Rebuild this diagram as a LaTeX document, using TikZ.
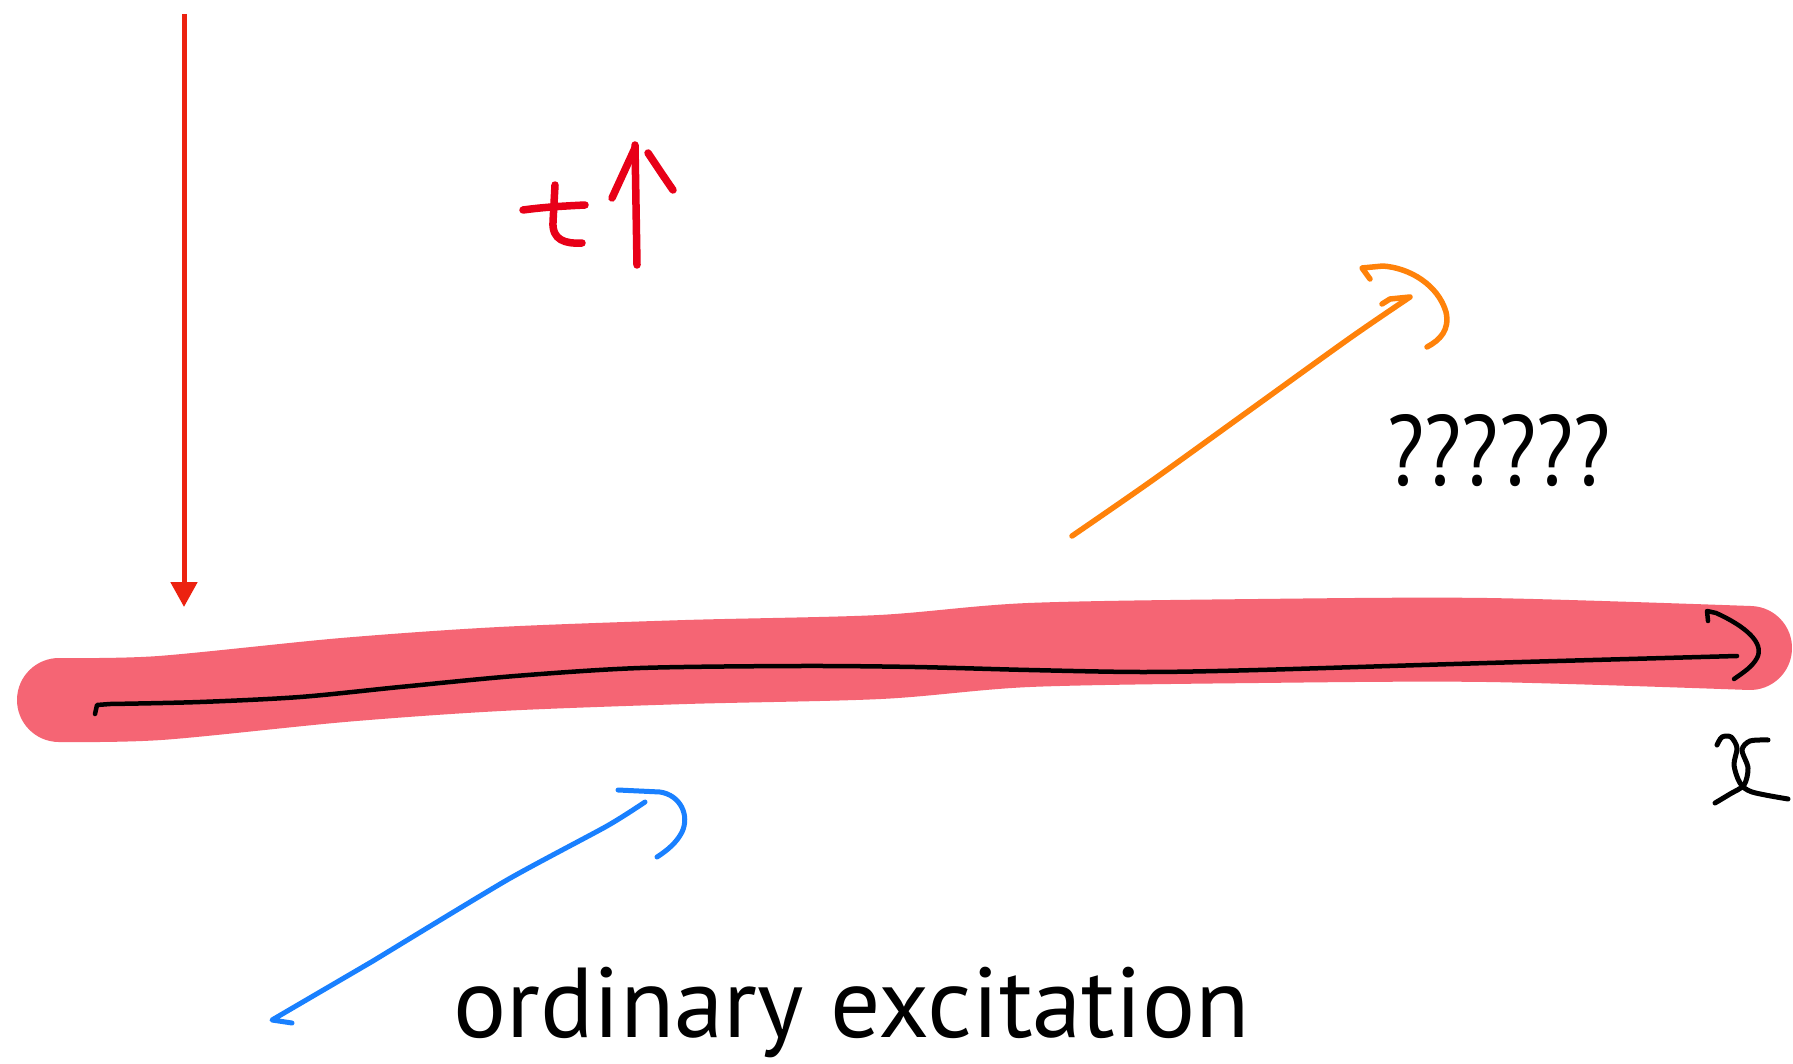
\documentclass[tikz,border=0pt]{standalone}
\usepackage{fontspec}
\setmainfont{PT Sans}
\usetikzlibrary{arrows.meta}
\definecolor{redarrow}{RGB}{236,34,16}
\definecolor{tred}{RGB}{232,0,24}
\definecolor{pinkband}{RGB}{245,101,116}
\definecolor{orangepen}{RGB}{255,130,10}
\definecolor{bluepen}{RGB}{25,128,255}
\begin{document}
\begin{tikzpicture}[x=1pt,y=-1pt,
  pen/.style={line cap=round,line join=round},
  blackpen/.style={pen,draw=black,line width=4.5pt},
  tpen/.style={pen,draw=tred,line width=7.5pt},
  orangeline/.style={pen,draw=orangepen,line width=5.5pt},
  blueline/.style={pen,draw=bluepen,line width=5pt},
  band/.style={draw=pinkband,line width=84pt,line cap=round,line join=round},
  label/.style={inner sep=0pt}]
\useasboundingbox (0,0) rectangle (1793,1064);
\fill[white] (0,0) rectangle (1793,1064);

% thick pink band
\draw[band] plot[smooth,tension=0.5] coordinates {(59,700) (160,698) (343,680) (500,669) (686,662) (880,657) (1029,645) (1258,641) (1487,640) (1750,648)};

% black x-axis
\draw[blackpen] (95,714) -- (97,705) -- plot[smooth,tension=0.5] coordinates {(110,704) (200,702) (300,697) (400,687) (515,676) (640,668) (800,666) (915,667) (1029,670) (1143,672) (1258,670) (1487,663) (1737,656)};
\draw[blackpen] (1708,621) -- (1707,611) -- (1716,613) .. controls (1745,626) and (1765,643) .. (1757,658) .. controls (1752,667) and (1744,672) .. (1734,679);
% x letter
\draw[blackpen,line width=5pt] plot[smooth,tension=0.5] coordinates {(1717,745) (1722,737) (1731,737) (1737,748) (1734,765) (1740,783) (1752,792) (1788,799)};
\draw[blackpen,line width=5pt] plot[smooth,tension=0.5] coordinates {(1768,740) (1750,741) (1742,750) (1748,768) (1744,785) (1730,794) (1715,803)};

% red vertical arrow
\coordinate (rtop) at (184,14);
\coordinate (rtip) at (184,607);
\draw[redarrow,line width=5pt,-{Triangle[length=25pt,width=26pt]}] (rtop) -- (rtip);

% t with up arrow
\draw[tpen] (523,210) .. controls (545,207) and (565,206) .. (585,205);
\draw[tpen] (555,185) -- (553,222) .. controls (552,240) and (565,244) .. (582,243);
\draw[tpen] (635,145) -- (637,265);
\draw[tpen] (635,148) -- (612,198);
\draw[tpen] (648,153) .. controls (658,168) and (666,180) .. (673,190);

% orange arrow
\draw[orangeline] plot[smooth,tension=0.5] coordinates {(1072,536) (1150,482) (1250,410) (1350,338) (1410,297)} -- (1390,299) -- (1382,304);
\draw[orangeline] (1370,279) -- (1362,268) -- (1383,266) .. controls (1410,268) and (1438,285) .. (1446,312) .. controls (1450,330) and (1440,340) .. (1427,347);

% blue arrow
\draw[blueline] (292,1023) -- (272,1020) -- plot[smooth,tension=0.4] coordinates {(373,961) (507,880) (607,826) (645,802)};
\draw[blueline] (618,790) -- (660,792) .. controls (680,795) and (690,815) .. (682,832) .. controls (677,842) and (668,850) .. (657,857);

% texts
\node[label,anchor=center] (qq) at (1499,451) {\resizebox{223pt}{71pt}{??????}};
\node[label,anchor=base west] (ordexc) at (453,1037) {\resizebox{796pt}{!}{ordinary excitation}};
\end{tikzpicture}
\end{document}
